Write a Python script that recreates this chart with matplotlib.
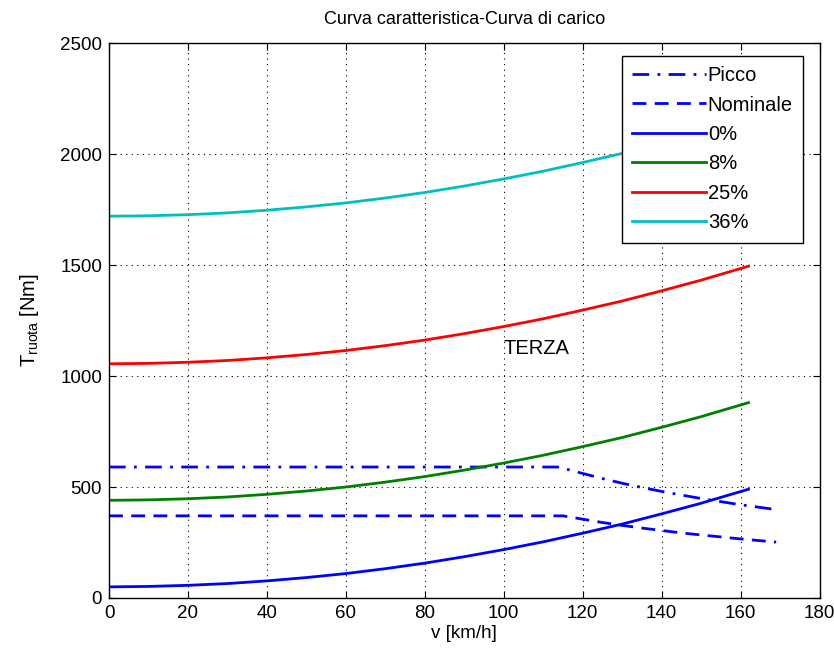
import matplotlib
matplotlib.use("Agg")
import matplotlib.pyplot as plt

plt.rcParams['font.family'] = ['Liberation Sans', 'DejaVu Sans']

v_curve = [0, 10, 20, 30, 40, 50, 60, 70, 80, 90, 100, 110, 120, 130, 140, 150, 162]
t_0 = [50, 52, 57, 65, 77, 92, 110, 132, 157, 186, 218, 253, 292, 333, 379, 427, 490]
t_8 = [440, 442, 447, 455, 467, 482, 500, 522, 547, 576, 608, 643, 682, 723, 769, 817, 880]
t_25 = [1055, 1057, 1062, 1070, 1082, 1097, 1115, 1137, 1162, 1191, 1223, 1258, 1297, 1338, 1384, 1432, 1495]
t_36 = [1720, 1722, 1727, 1735, 1747, 1762, 1780, 1802, 1827, 1856, 1888, 1923, 1962, 2003, 2049, 2097, 2160]

v_picco = [0, 114, 117, 120, 125, 130, 135, 140, 145, 150, 155, 160, 165, 169]
t_picco = [590, 590, 575, 561, 538, 517, 498, 480, 464, 448, 434, 420, 408, 398]
v_nom = [0, 115, 120, 125, 130, 135, 140, 145, 150, 155, 160, 165, 169]
t_nom = [370, 370, 355, 340, 327, 315, 304, 293, 284, 275, 266, 258, 252]

labels = ['Picco', 'Nominale', '0%', '8%', '25%', '36%']
colors = ['#0000ff', '#0000ff', '#0000ff', '#008000', '#ff0000', '#00bfbf']

fig = plt.figure(figsize=(8.34, 6.59), dpi=100)
ax = fig.add_axes([0.1307, 0.0926, 0.852, 0.842])

ax.plot(v_picco, t_picco, linestyle=(0, (6, 3, 1, 3)), color=colors[0], lw=2, label=labels[0])
ax.plot(v_nom, t_nom, linestyle=(0, (5, 3)), color=colors[1], lw=2, label=labels[1])
ax.plot(v_curve, t_0, color=colors[2], lw=2, label=labels[2])
ax.plot(v_curve, t_8, color=colors[3], lw=2, label=labels[3])
ax.plot(v_curve, t_25, color=colors[4], lw=2, label=labels[4])
ax.plot(v_curve, t_36, color=colors[5], lw=2, label=labels[5])

ax.text(100, 1126, 'TERZA', fontsize=14.5, va='center', ha='left')

ax.set_xlim(0, 180)
ax.set_ylim(0, 2500)
ax.set_xticks(range(0, 181, 20))
ax.set_yticks(range(0, 2501, 500))
ax.grid(True, color='black', linestyle=(0, (1, 4)), lw=0.8)
ax.tick_params(direction='in', top=True, right=True, labelsize=13.5, length=5, pad=5)
for s in ax.spines.values():
    s.set_linewidth(1)

ax.set_title('Curva caratteristica-Curva di carico', fontsize=13, pad=14)
ax.set_xlabel('v [km/h]', fontsize=13.5, labelpad=2)
ax.set_ylabel(r'T$_{\mathregular{ruota}}$ [Nm]', fontsize=14.5, labelpad=14)

leg = ax.legend(loc='upper right', fontsize=14.5, frameon=True, fancybox=False,
                edgecolor='black', framealpha=1, borderpad=0.5, labelspacing=0.52,
                handlelength=3.65, handletextpad=0.1, borderaxespad=0,
                bbox_to_anchor=(803 / 834, 1 - 56 / 659), bbox_transform=fig.transFigure)
leg.get_frame().set_linewidth(1)

fig.savefig('out.png', dpi=100)
